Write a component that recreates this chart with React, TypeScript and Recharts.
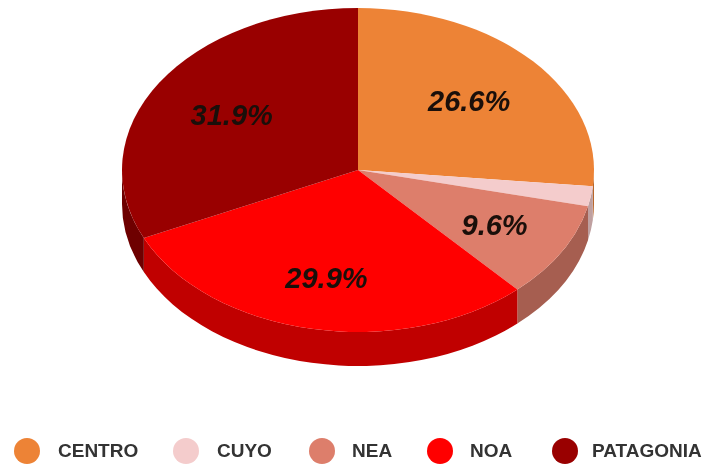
import React from "react";
import { PieChart, Pie, Legend } from "recharts";

const regions = ["CENTRO", "CUYO", "NEA", "NOA", "PATAGONIA"];
const shares = [26.6, 2.0, 9.6, 29.9, 31.9];
const topColors = ["#ED8336", "#F4CCCC", "#DD7E6B", "#FF0000", "#990000"];
const sideColors = ["#B9662A", "#BFA0A0", "#A65E50", "#C00000", "#6E0000"];
const labelled = [true, false, true, true, true];
const labelRatios = [0.635, 0.65, 0.67, 0.68, 0.635];
const legendLefts = [14, 173, 309, 427, 552];
const legendGaps = [18, 18, 17, 17, 14];

const SQUASH = 162 / 236;
const DEPTH = 34;

const topData = regions.map((name, i) => ({ name, value: shares[i], fill: topColors[i] }));
const sideData = regions.map((name, i) => ({ name, value: shares[i], fill: sideColors[i] }));

const point = (cx: number, cy: number, r: number, deg: number) => {
  const a = (deg * Math.PI) / 180;
  return [cx + r * Math.cos(a), cy - r * SQUASH * Math.sin(a)];
};

const TopSector = (p: any) => {
  const { cx, cy, outerRadius: r, startAngle: s, endAngle: e, fill } = p;
  const [x0, y0] = point(cx, cy, r, s);
  const [x1, y1] = point(cx, cy, r, e);
  const large = Math.abs(s - e) > 180 ? 1 : 0;
  const sweep = s > e ? 1 : 0;
  return (
    <path
      d={`M${cx},${cy} L${x0},${y0} A${r},${r * SQUASH} 0 ${large} ${sweep} ${x1},${y1} Z`}
      fill={fill}
    />
  );
};

// Extruded rim: only the part of each sector on the near half of the ellipse shows.
const SideSector = (p: any) => {
  const { cx, cy, outerRadius: r, startAngle: s, endAngle: e, fill } = p;
  const hi = Math.min(Math.max(s, e), 0);
  const lo = Math.max(Math.min(s, e), -180);
  if (hi <= lo) return <g />;
  const [x0, y0] = point(cx, cy, r, hi);
  const [x1, y1] = point(cx, cy, r, lo);
  const ry = r * SQUASH;
  return (
    <path
      d={`M${x0},${y0} A${r},${ry} 0 0 1 ${x1},${y1} L${x1},${y1 + DEPTH} A${r},${ry} 0 0 0 ${x0},${y0 + DEPTH} Z`}
      fill={fill}
    />
  );
};

const SliceLabel = (p: any) => {
  const { cx, cy, outerRadius: r, midAngle, index, value } = p;
  if (!labelled[index]) return <g />;
  const [x, y] = point(cx, cy, r * labelRatios[index], midAngle);
  return (
    <text
      x={x}
      y={y}
      textAnchor="middle"
      dominantBaseline="central"
      fontFamily="'Liberation Sans', Arial, sans-serif"
      fontWeight="bold"
      fontStyle="italic"
      fontSize={29}
      fill="#1a0f0a"
    >
      {`${Number(value).toFixed(1)}%`}
    </text>
  );
};

const LegendRow = () => (
  <div style={{ position: "relative", width: 705, height: 26 }}>
    {regions.map((name, i) => (
      <div
        key={name}
        style={{
          position: "absolute",
          left: legendLefts[i],
          top: 0,
          display: "flex",
          alignItems: "center",
          height: 26,
        }}
      >
        <span
          style={{
            width: 26,
            height: 26,
            borderRadius: "50%",
            background: topColors[i],
            marginRight: legendGaps[i],
            display: "inline-block",
          }}
        />
        <span
          style={{
            fontFamily: "'Liberation Sans', Arial, sans-serif",
            fontWeight: "bold",
            fontSize: 19,
            color: "#333333",
            whiteSpace: "nowrap",
          }}
        >
          {name}
        </span>
      </div>
    ))}
  </div>
);

export default function App() {
  return (
    <div
      style={{
        position: "absolute",
        left: 0,
        top: 0,
        width: 705,
        height: 465,
        background: "#fff",
        filter: "blur(0.7px)",
      }}
    >
      <PieChart width={705} height={465} margin={{ top: 0, right: 0, bottom: 0, left: 0 }}>
        <Pie
          data={sideData}
          dataKey="value"
          nameKey="name"
          cx={358}
          cy={170}
          outerRadius={236}
          startAngle={90}
          endAngle={-270}
          stroke="none"
          legendType="none"
          shape={SideSector}
          isAnimationActive={false}
        />
        <Pie
          data={topData}
          dataKey="value"
          nameKey="name"
          cx={358}
          cy={170}
          outerRadius={236}
          startAngle={90}
          endAngle={-270}
          stroke="none"
          shape={TopSector}
          label={SliceLabel}
          labelLine={false}
          isAnimationActive={false}
        />
        <Legend
          content={<LegendRow />}
          wrapperStyle={{ position: "absolute", left: 0, top: 438, width: 705, height: 26 }}
        />
      </PieChart>
    </div>
  );
}
